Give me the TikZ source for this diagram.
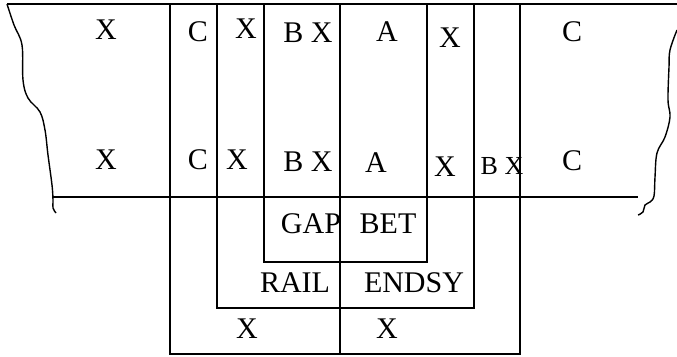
\documentclass[tikz,border=0pt]{standalone}
\usepackage{fontspec}
\setmainfont{Liberation Serif}
\begin{document}
\begin{tikzpicture}[x=1pt,y=-1pt,
  frame/.style={line width=1.1pt},
  edge/.style={line width=1.4pt},
  lbl/.style={inner sep=0pt,font=\fontsize{30}{30}\selectfont},
  small/.style={inner sep=0pt,font=\fontsize{26}{26}\selectfont}]
\useasboundingbox (0,0) rectangle (677,356);
% outer cut edges
\draw[edge] plot[smooth,tension=0.6] coordinates {(7,4) (14,25) (22,45) (23,80) (28,98) (40,112) (45,130) (48,155) (52,185) (53,200) (53,208) (56,213)};
\draw[edge] plot[smooth,tension=0.6] coordinates {(677,30) (670,50) (669,67) (668,100) (670,117) (665,137) (657,153) (655,177) (654,196) (650,202) (645,205) (643,212) (638,215)};
% horizontal rails
\draw[frame] (7,4) -- (677,4);
\draw[frame] (53,197) -- (638,197);
% nested frames
\draw[frame] (170,4) -- (170,354) -- (520,354) -- (520,4);
\draw[frame] (217,4) -- (217,308) -- (474,308) -- (474,4);
\draw[frame] (264,4) -- (264,262) -- (427,262) -- (427,4);
\draw[frame] (340,4) -- (340,354);
% upper row
\node[lbl] (x1) at (106,30) {X};
\node[lbl] (c1) at (198,32) {C};
\node[lbl] (x2) at (246,29) {X};
\node[lbl] (bx1) at (308,33) {B X};
\node[lbl] (a1) at (387,32) {A};
\node[lbl] (x3) at (450,38) {X};
\node[lbl] (c2) at (572,32) {C};
% lower row
\node[lbl] (x4) at (106,160) {X};
\node[lbl] (c3) at (198,160) {C};
\node[lbl] (x5) at (237,160) {X};
\node[lbl] (bx2) at (308,162) {B X};
\node[lbl] (a2) at (376,163) {A};
\node[lbl] (x6) at (445,167) {X};
\node[small] (bx3) at (502,166) {B X};
\node[lbl] (c4) at (572,161) {C};
% below the rail
\node[lbl] (gap) at (311,224) {GAP};
\node[lbl] (bet) at (388,224) {BET};
\node[lbl] (rail) at (295,283) {RAIL};
\node[lbl] (endsy) at (414,283) {ENDSY};
\node[lbl] (x7) at (247,329) {X};
\node[lbl] (x8) at (387,329) {X};
\end{tikzpicture}
\end{document}
